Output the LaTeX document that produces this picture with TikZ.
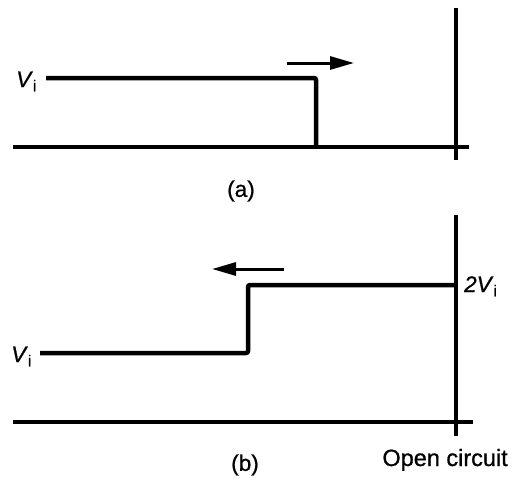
\documentclass[tikz,border=0pt]{standalone}
\usepackage{fontspec}
\setmainfont{Liberation Sans}[FakeBold=0.8,ItalicFeatures={FakeBold=0.8}]
\usetikzlibrary{arrows.meta}
\begin{document}
\begin{tikzpicture}[x=1pt,y=-1pt,
  axis/.style={line width=3.2pt},
  wave/.style={line width=4.5pt,line join=round,rounded corners=2pt},
  motion/.style={line width=3pt,-{Triangle[length=24pt,width=13pt]}},
  lbl/.style={font=\fontsize{22.5}{26}\selectfont,inner sep=0pt}]
\useasboundingbox (0,0) rectangle (512,490);
% panel (a)
\coordinate (aT) at (456,8);
\coordinate (aB) at (456,160);
\coordinate (aL) at (13,147);
\coordinate (aR) at (469,147);
\coordinate (p1) at (46,78);
\coordinate (p2) at (316,78);
\coordinate (p3) at (316,147);
\coordinate (ma1) at (287,63);
\coordinate (ma2) at (354,63);
\draw[axis] (aT) -- (aB);
\draw[axis] (aL) -- (aR);
\draw[wave] (p1) -- (p2) -- (p3);
\draw[motion] (ma1) -- (ma2);
\node[lbl,anchor=base west] (va) at (16,87) {\textit{V}\textsubscript{i}};
\node[lbl] (la) at (241,191) {(a)};
% panel (b)
\coordinate (bT) at (456,215);
\coordinate (bB) at (456,436);
\coordinate (bL) at (13,422);
\coordinate (bR) at (473,422);
\coordinate (q1) at (40,353);
\coordinate (q2) at (248,353);
\coordinate (q3) at (248,285);
\coordinate (q4) at (456,285);
\coordinate (mb1) at (284,269);
\coordinate (mb2) at (212,269);
\draw[axis] (bT) -- (bB);
\draw[axis] (bL) -- (bR);
\draw[wave] (q1) -- (q2) -- (q3) -- (q4);
\draw[motion] (mb1) -- (mb2);
\node[lbl,anchor=base west] (vb) at (11,362) {\textit{V}\textsubscript{i}};
\node[lbl,anchor=base west] (v2) at (464,292) {\textit{2V}\textsubscript{i}};
\node[lbl,anchor=base east,font=\fontsize{23.5}{27}\selectfont] (oc) at (508,466) {Open circuit};
\node[lbl] (lb) at (245,465) {(b)};
\end{tikzpicture}
\end{document}
